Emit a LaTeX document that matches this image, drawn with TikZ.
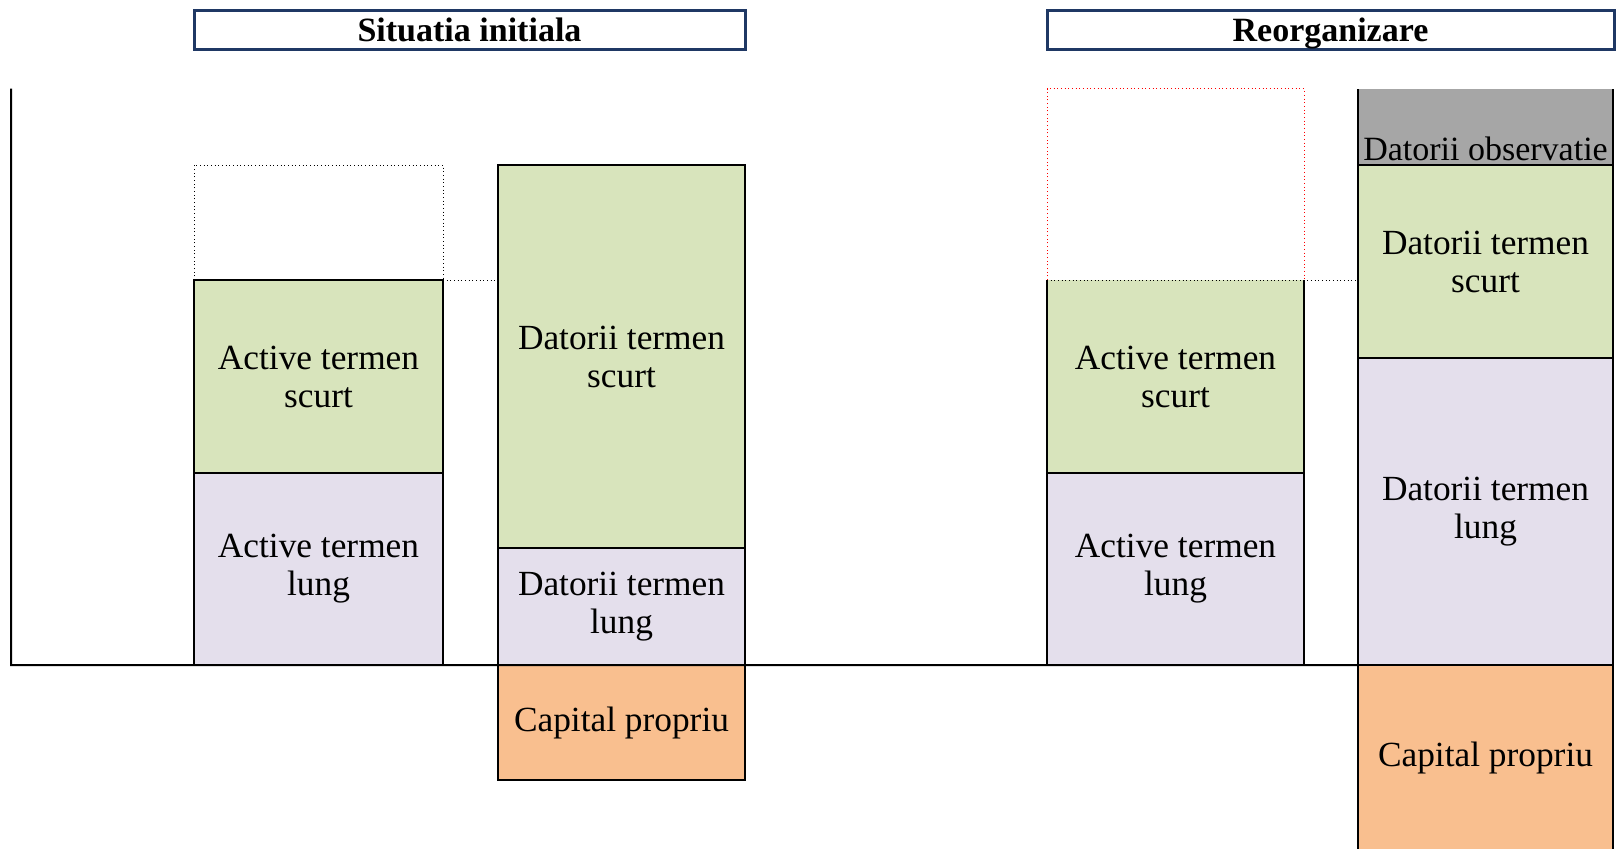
\documentclass[tikz,border=0pt]{standalone}
\usepackage{fontspec}
\setmainfont{Liberation Serif}
\usepackage{xcolor}
\usetikzlibrary{positioning}
\definecolor{verdebloc}{HTML}{D8E4BC}
\definecolor{lilabloc}{HTML}{E4DFEC}
\definecolor{portocaliu}{HTML}{F9BF8F}
\definecolor{grilabloc}{HTML}{A6A6A6}
\definecolor{bleumarin}{HTML}{1F3864}
\tikzset{
	bloc/.style={
		rectangle, draw=black, line width=1.5pt,
		inner sep=0pt, outer sep=0pt, align=center,
		font=\fontsize{26.5}{28.5}\selectfont
	},
	titlu/.style={
		rectangle, draw=bleumarin, line width=2.25pt,
		inner sep=0pt, outer sep=0pt, minimum height=29.25pt,
		text height=21.5pt, text depth=5.5pt,
		font=\fontsize{25.5}{26}\selectfont\bfseries
	},
	gol/.style={rectangle, inner sep=0pt, outer sep=0pt},
	punctat/.style={dotted, line width=0.75pt}
}

\begin{document}
\begin{tikzpicture}[
	fara/.style={bloc, draw=none},
	]
	\useasboundingbox (0,0) rectangle (1212pt,-636.75pt);
	
	%Titluri
	\node[titlu, minimum width=413.25pt, anchor=north west] (titlu1) at (145.5pt,-8.25pt) {Situatia initiala};
	\node[titlu, minimum width=425.25pt, anchor=north west] (titlu2) at (785.25pt,-8.25pt) {Reorganizare};
	
	%Situatia initiala
	\node[gol, minimum width=186.75pt, minimum height=86.25pt, anchor=north west] (gol1) at (145.5pt,-123.75pt) {};
	\node[bloc, fill=verdebloc, minimum width=186.75pt, minimum height=144.75pt] (ats1) [below=0pt of gol1] {Active termen\\scurt};
	\node[bloc, fill=lilabloc, minimum width=186.75pt, minimum height=144pt] (atl1) [below=0pt of ats1] {Active termen\\lung};
	\node[bloc, fill=verdebloc, minimum width=185.25pt, minimum height=287.25pt, anchor=north west] (dts1) at (373.5pt,-123.75pt) {Datorii termen\\scurt};
	\node[bloc, fill=lilabloc, minimum width=185.25pt, minimum height=87.75pt] (dtl1) [below=0pt of dts1] {Datorii termen\\lung};
	\node[bloc, fill=portocaliu, minimum width=185.25pt, minimum height=86.25pt] (cp1) [below=0pt of dtl1] {Capital propriu};
	
	%Reorganizare
	\node[gol, minimum width=192.75pt, minimum height=143.55pt, anchor=north west] (gol2) at (785.25pt,-66.45pt) {};
	\node[fara, fill=verdebloc, minimum width=192.75pt, minimum height=144.75pt] (ats2) [below=0pt of gol2] {Active termen\\scurt};
	\node[bloc, fill=lilabloc, minimum width=192.75pt, minimum height=144pt] (atl2) [below=0pt of ats2] {Active termen\\lung};
	\node[fara, fill=grilabloc, minimum width=191.25pt, minimum height=57.3pt, anchor=north west] (do2) at (1018.5pt,-66.45pt) {};
	\node[bloc, fill=verdebloc, minimum width=191.25pt, minimum height=144.75pt] (dts2) [below=0pt of do2] {Datorii termen\\scurt};
	\node[bloc, fill=lilabloc, minimum width=191.25pt, minimum height=230.25pt] (dtl2) [below=0pt of dts2] {Datorii termen\\lung};
	\node[bloc, fill=portocaliu, minimum width=191.25pt, minimum height=140pt] (cp2) [below=0pt of dtl2] {Capital propriu};
	\node[fara, anchor=south, inner sep=3pt, font=\fontsize{25.5}{28}\selectfont] (do2text) at (do2.south) {Datorii observatie};
	
	%Contururi
	\draw[punctat] (gol1.south west) -- (gol1.north west) -- (gol1.north east) -- (gol1.south east);
	\draw[punctat, red] (gol2.south west) -- (gol2.north west) -- (gol2.north east) -- (gol2.south east);
	\draw[line width=1.5pt] (ats2.north west) -- (ats2.south west) -- (ats2.south east) -- (ats2.north east);
	\draw[line width=1.5pt] (do2.south west) -- (do2.north west);
	\draw[line width=1.5pt] (do2.south east) -- (do2.north east);
	
	%Linii
	\coordinate (origine) at (8.25pt,-498.75pt);
	\draw[line width=1.5pt] (origine |- gol2.north) -- (origine) -- (dtl2.south west);
	\draw[punctat] (ats1.north east) -- (dts1.west |- ats1.north);
	\draw[punctat] (ats2.north west) -- (dts2.west |- ats2.north);
\end{tikzpicture}
\end{document}
